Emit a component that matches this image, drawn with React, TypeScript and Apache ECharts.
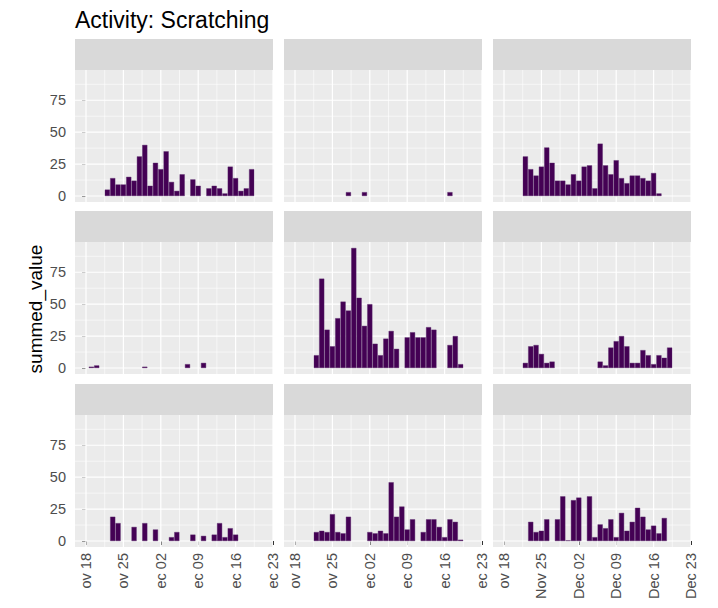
import React, { useEffect, useRef } from "react";
import * as echarts from "echarts";

// Day offsets from Nov 18 (day 1 = Nov 19 ... day 31 = Dec 19)
const DAYS = [1, 2, 3, 4, 5, 6, 7, 8, 9, 10, 11, 12, 13, 14, 15, 16, 17, 18, 19, 20, 21, 22, 23, 24, 25, 26, 27, 28, 29, 30, 31];

// Panel values per day (null = no bar), row by row
const PANEL_R1C1 = [null, null, null, 5, 14, 9, 9, 15, 12, 31, 40, 8, 26, 21, 35, 11, 4, 17, null, 13, 8, null, 6, 8, 6, 2, 23, 14, 4, 6, 21];
const PANEL_R1C2 = [null, null, null, null, null, null, null, null, null, 3, null, null, 3, null, null, null, null, null, null, null, null, null, null, null, null, null, null, null, 3, null, null];
const PANEL_R1C3 = [null, null, null, 31, 21, 16, 23, 38, 26, 12, 12, 9, 17, 12, 23, 24, 6, 41, 24, 17, 28, 14, 10, 16, 16, 14, 12, 18, 2, null, null];
const PANEL_R2C1 = [1, 2, null, null, null, null, null, null, null, null, 1, null, null, null, null, null, null, null, 3, null, null, 4, null, null, null, null, null, null, null, null, null];
const PANEL_R2C2 = [null, null, null, 10, 70, 30, 17, 39, 52, 45, 94, 55, 33, 50, 19, 10, 23, 29, 15, null, 24, 28, 24, 24, 32, 30, null, null, 18, 25, 3];
const PANEL_R2C3 = [null, null, null, 4, 17, 18, 11, 4, 5, null, null, null, null, null, null, null, null, 5, 2, 16, 21, 25, 17, 4, 4, 14, 10, 3, 10, 8, 16];
const PANEL_R3C1 = [null, null, null, null, 19, 14, null, null, 11, null, 14, null, 9, null, null, 3, 7, null, null, 5, null, 4, null, 5, 14, 3, 10, 5, null, null, null];
const PANEL_R3C2 = [null, null, null, 7, 8, 7, 21, 7, 6, 19, null, null, null, 7, 6, 8, 6, 46, 19, 27, 9, 17, null, 7, 17, 17, 11, 3, 17, 15, 1];
const PANEL_R3C3 = [null, null, null, null, 15, 7, 8, 17, null, 17, 35, 0.5, 32, 34, null, 35, 3, 13, 10, 17, 3, 22, 8, 15, 26, 19, 9, 12, 6, 18, null];

const PANELS = [PANEL_R1C1, PANEL_R1C2, PANEL_R1C3, PANEL_R2C1, PANEL_R2C2, PANEL_R2C3, PANEL_R3C1, PANEL_R3C2, PANEL_R3C3];

// Axis breaks
const X_MAJOR = [0, 7, 14, 21, 28, 35];
const X_MINOR = [3.5, 10.5, 17.5, 24.5, 31.5];
const Y_MAJOR = [0, 25, 50, 75];
const Y_MINOR = [12.5, 37.5, 62.5, 87.5];
const Y_TICK_LABELS = ["0", "25", "50", "75"];
const X_TICK_LABELS_CLIPPED = ["ov 18", "ov 25", "ec 02", "ec 09", "ec 16", "ec 23"];
const X_TICK_LABELS_FULL = ["ov 18", "Nov 25", "Dec 02", "Dec 09", "Dec 16", "Dec 23"];

const TITLE = "Activity: Scratching";
const Y_TITLE = "summed_value";

// Layout
const X_MIN = -2.06;
const X_MAX = 35;
const Y_MIN = -4.7;
const Y_MAX = 98.7;
const COL_LEFT = [75, 284, 493];
const ROW_TOP = [70, 242, 415];
const PW = 198;
const PH = 132;
const STRIP_H = 31;
const FONT = "'Liberation Sans', Arial, sans-serif";

export default function App() {
  const ref = useRef<HTMLDivElement>(null);

  useEffect(() => {
    if (!ref.current) return;
    const chart = echarts.init(ref.current, undefined, { renderer: "svg" });

    const grids: any[] = [];
    const xAxes: any[] = [];
    const yAxes: any[] = [];
    const series: any[] = [];
    const graphics: any[] = [];

    PANELS.forEach((vals, i) => {
      const r = Math.floor(i / 3);
      const c = i % 3;
      const xLabels = c === 2 ? X_TICK_LABELS_FULL : X_TICK_LABELS_CLIPPED;
      grids.push({
        left: COL_LEFT[c],
        top: ROW_TOP[r],
        width: PW,
        height: PH,
        show: true,
        backgroundColor: "#EBEBEB",
        borderWidth: 0,
      });
      xAxes.push({
        type: "value",
        gridIndex: i,
        min: X_MIN,
        max: X_MAX,
        axisLine: { show: false },
        splitLine: { show: false },
        axisTick: {
          show: r === 2,
          customValues: X_MAJOR,
          length: 4,
          lineStyle: { color: "#333333", width: 1 },
        },
        axisLabel: {
          show: r === 2,
          customValues: X_MAJOR,
          rotate: 90,
          margin: 6,
          fontSize: 14.5,
          color: "#4D4D4D",
          fontFamily: FONT,
          formatter: (v: number) => {
            const k = X_MAJOR.indexOf(v);
            return k >= 0 ? xLabels[k] : "";
          },
        },
      });
      yAxes.push({
        type: "value",
        gridIndex: i,
        min: Y_MIN,
        max: Y_MAX,
        axisLine: { show: false },
        splitLine: { show: false },
        axisTick: {
          show: c === 0,
          customValues: Y_MAJOR,
          length: 4,
          lineStyle: { color: "#333333", width: 1 },
        },
        axisLabel: {
          show: c === 0,
          customValues: Y_MAJOR,
          margin: 9,
          fontSize: 14.5,
          color: "#4D4D4D",
          fontFamily: FONT,
          formatter: (v: number) => {
            const k = Y_MAJOR.indexOf(v);
            return k >= 0 ? Y_TICK_LABELS[k] : "";
          },
        },
      });
      series.push({
        type: "custom",
        xAxisIndex: i,
        yAxisIndex: i,
        z: 1,
        silent: true,
        clip: true,
        data: [[0, 0]],
        renderItem: (params: any, api: any) => {
          const cs = params.coordSys;
          const children: any[] = [];
          const vline = (v: number, w: number) => {
            const x = api.coord([v, 0])[0];
            children.push({
              type: "line",
              shape: { x1: x, y1: cs.y, x2: x, y2: cs.y + cs.height },
              style: { stroke: "#FFFFFF", lineWidth: w },
            });
          };
          const hline = (v: number, w: number) => {
            const y = api.coord([0, v])[1];
            children.push({
              type: "line",
              shape: { x1: cs.x, y1: y, x2: cs.x + cs.width, y2: y },
              style: { stroke: "#FFFFFF", lineWidth: w },
            });
          };
          X_MINOR.forEach((v) => vline(v, 0.6));
          Y_MINOR.forEach((v) => hline(v, 0.6));
          X_MAJOR.forEach((v) => vline(v, 1.2));
          Y_MAJOR.forEach((v) => hline(v, 1.2));
          return { type: "group", children };
        },
      });
      const data: any[] = [];
      DAYS.forEach((d, k) => {
        if (vals[k] !== null && vals[k] !== undefined) data.push([d, vals[k]]);
      });
      series.push({
        type: "bar",
        xAxisIndex: i,
        yAxisIndex: i,
        z: 2,
        barWidth: 5.1,
        data,
        itemStyle: { color: "#440154", borderColor: "#5A2A6C", borderWidth: 0.4 },
      });
      graphics.push({
        type: "rect",
        shape: { x: COL_LEFT[c], y: ROW_TOP[r] - STRIP_H, width: PW, height: STRIP_H },
        style: { fill: "#D9D9D9" },
        silent: true,
      });
    });

    graphics.push({
      type: "text",
      x: 35,
      y: 309,
      rotation: Math.PI / 2,
      style: {
        text: Y_TITLE,
        fontSize: 19,
        fontFamily: FONT,
        fill: "#000000",
        align: "center",
        verticalAlign: "middle",
      },
    });

    chart.setOption({
      animation: false,
      backgroundColor: "#FFFFFF",
      title: {
        text: TITLE,
        left: 75,
        top: 8,
        padding: 0,
        textStyle: { fontSize: 23, fontWeight: "normal", color: "#000000", fontFamily: FONT },
      },
      grid: grids,
      xAxis: xAxes,
      yAxis: yAxes,
      series,
      graphic: graphics,
    });

    return () => chart.dispose();
  }, []);

  return (
    <div
      ref={ref}
      style={{ position: "absolute", left: 0, top: 0, width: 718, height: 608 }}
    />
  );
}
